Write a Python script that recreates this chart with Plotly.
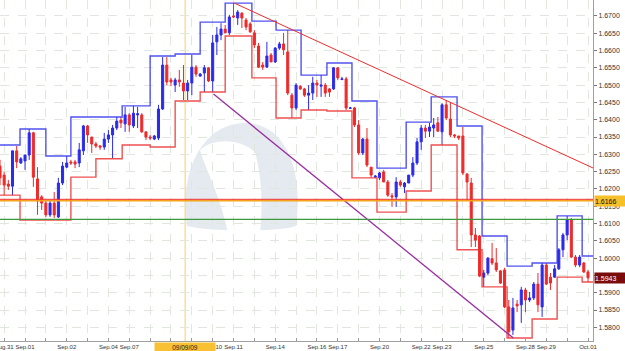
import plotly.graph_objects as go

# ---------------- data (prices in pips, i.e. price * 10000) ----------------
open_p = [16266,16240,16214,16208,16310,16275,16281,16298,16362,16229,
          16177,16159,16125,16159,16119,16217,16263,16278,16278,16275,
          16310,16382,16350,16330,16324,16321,16344,16356,16376,16399,
          16388,16414,16382,16414,16414,16365,16350,16344,16347,16431,
          16558,16515,16500,16515,16506,16483,16506,16552,16526,16535,
          16550,16512,16625,16645,16662,16651,16700,16694,16708,16688,
          16677,16651,16613,16558,16552,16587,16567,16607,16619,16596,
          16471,16434,16497,16489,16471,16477,16506,16497,16500,16489,
          16489,16550,16516,16518,16433,16434,16385,16304,16344,16263,
          16234,16232,16249,16220,16180,16177,16220,16206,16217,16240,
          16275,16336,16376,16367,16376,16391,16365,16443,16402,16356,
          16353,16353,16243,16217,16067,16064,15945,15957,15998,15986,
          15963,15966,15859,15792,15867,15865,15908,15879,15885,15925,
          15859,15980,15945,15945,15969,16024,16067,16110,16003,15980,
          15986,15960]
high_p = [16284,16249,16226,16310,16324,16292,16298,16373,16365,16263,
          16182,16168,16168,16191,16232,16278,16295,16284,16284,16333,
          16385,16385,16350,16336,16327,16362,16370,16385,16408,16408,
          16437,16419,16440,16437,16419,16365,16356,16356,16443,16581,
          16581,16521,16521,16544,16558,16515,16587,16558,16535,16558,
          16552,16645,16668,16679,16674,16703,16737,16717,16711,16694,
          16682,16659,16622,16567,16625,16593,16610,16625,16651,16659,
          16477,16506,16500,16492,16500,16524,16515,16529,16506,16492,
          16552,16552,16524,16524,16437,16437,16399,16347,16376,16263,
          16240,16249,16255,16226,16188,16234,16226,16220,16240,16292,
          16347,16385,16385,16391,16405,16408,16448,16457,16451,16359,
          16353,16379,16246,16232,16087,16067,15966,16003,16044,16029,
          15966,15972,15879,15885,15879,15917,15914,15902,15931,15957,
          15986,15986,15957,15980,16029,16073,16122,16116,16009,16009,
          15989,15966]
low_p = [16211,16182,16197,16182,16260,16272,16255,16284,16206,16125,
         16139,16119,16119,16116,16116,16211,16260,16269,16260,16263,
         16298,16333,16304,16318,16313,16313,16333,16289,16370,16376,
         16365,16365,16376,16376,16362,16341,16341,16341,16341,16428,
         16500,16497,16480,16495,16457,16457,16471,16524,16524,16480,
         16509,16480,16587,16630,16651,16645,16694,16674,16665,16659,
         16651,16607,16550,16544,16550,16567,16564,16602,16587,16471,
         16405,16428,16486,16466,16428,16457,16466,16466,16466,16466,
         16486,16515,16515,16428,16431,16379,16298,16298,16263,16232,
         16232,16226,16220,16177,16148,16148,16206,16188,16217,16234,
         16269,16313,16347,16350,16350,16365,16327,16399,16350,16347,
         16341,16240,16168,16032,16032,15945,15917,15951,15980,15960,
         15925,15856,15769,15778,15844,15813,15844,15873,15879,15844,
         15830,15922,15908,15943,15966,16003,16052,16000,15974,15974,
         15957,15931]
close_p = [16232,16211,16208,16310,16278,16287,16298,16362,16234,16165,
           16159,16125,16159,16125,16217,16266,16275,16275,16272,16313,
           16382,16356,16330,16324,16321,16344,16356,16376,16396,16391,
           16414,16385,16419,16417,16365,16350,16347,16353,16431,16558,
           16509,16509,16515,16509,16483,16506,16552,16532,16532,16550,
           16512,16622,16645,16662,16651,16697,16697,16711,16694,16668,
           16654,16616,16552,16552,16584,16567,16607,16619,16602,16477,
           16434,16500,16489,16471,16477,16506,16500,16500,16477,16480,
           16550,16521,16518,16434,16434,16385,16304,16344,16269,16240,
           16237,16246,16220,16182,16177,16220,16211,16217,16240,16275,
           16336,16376,16367,16379,16385,16367,16443,16405,16356,16353,
           16347,16246,16220,16067,16052,15948,15957,16000,15986,15966,
           15928,15859,15787,15856,15862,15908,15879,15885,15925,15865,
           15980,15925,15928,15969,16024,16067,16110,16003,15980,16003,
           15960,15943]

# daily channel (bar-index where each level starts, upper / lower level in pips)
chan_start = [-1, 4.8, 11.0, 17.0, 23.0, 29.3, 36.0, 42.0, 48.0, 54.0, 60.4, 66.2,
              72.2, 78.4, 84.4, 90.4, 97.4, 103.4, 109.6, 115.6, 121.6, 127.6, 133.6, 139.6]
chan_upper = [16327,16373,16295,16408,16408,16440,16584,16590,16682,16737,16685,16659,
              16529,16564,16454,16260,16393,16466,16382,16064,15977,15986,16122,16006]
chan_lower = [16182,16110,16110,16234,16287,16327,16321,16454,16480,16642,16521,16405,
              16428,16425,16232,16133,16194,16327,16024,15917,15769,15824,15945,15931]

# trend lines (bar index, price)
red_trend_x = [56.2, 142.3]
red_trend_y = [1.6737, 1.6260]
purple_trend_x = [51.2, 123.1]
purple_trend_y = [1.6474, 1.5769]

# horizontal levels
orange_level = 1.6166
red_level = 1.6170
green_level = 1.6112
last_price = 1.5943
cursor_bar = 44.4
cursor_label = "09/09/09"

# x tick labels (bar index -> label)
tick_labels = {1: "Aug.31", 6: "Sep.01", 16: "Sep.02", 26: "Sep.04", 31: "Sep.07",
               51: "Sep.10", 56: "Sep.11", 66: "Sep.14", 76: "Sep.16", 81: "Sep.17",
               91: "Sep.20", 101: "Sep.22", 106: "Sep.23", 116: "Sep.25", 126: "Sep.28",
               131: "Sep.29", 141: "Oct.01"}
y_ticks = [round(1.5800 + 0.005 * k, 4) for k in range(19)]
y_hidden = [1.5950]   # label covered by the last-price tag

# ---------------- figure ----------------
P = 10000.0
n = len(open_p)
idx = list(range(n))
BLUE = "#2b2bea"
RED = "#ee2a2a"
FONT = "Liberation Sans, Arial, sans-serif"

fig = go.Figure()

# watermark (decorative)
W, H = 593.0, 341.0
def pth(pts):
    s = ""
    for cmd, coords in pts:
        s += cmd + " " + " ".join(f"{x / W:.4f},{1 - y / H:.4f}" for x, y in coords) + " "
    return s + "Z"

logo_outer = pth([("M", [(187, 226)]), ("C", [(178, 168), (205, 123), (245, 123)]),
                  ("C", [(284, 123), (304, 168), (296, 226)]),
                  ("C", [(280, 232), (210, 232), (187, 226)])])
logo_swoosh = pth([("M", [(228, 234)]), ("C", [(222, 200), (205, 168), (200, 150)]),
                   ("C", [(212, 138), (240, 138), (255, 152)]),
                   ("C", [(262, 178), (263, 205), (260, 234)])])
fig.add_shape(type="path", path=logo_outer, xref="paper", yref="paper",
              fillcolor="#e4eaf0", line=dict(width=0), layer="below")
fig.add_shape(type="path", path=logo_swoosh, xref="paper", yref="paper",
              fillcolor="#ffffff", line=dict(width=0), layer="below")

# cursor vertical line
fig.add_shape(type="line", x0=cursor_bar, x1=cursor_bar, y0=0, y1=1, xref="x", yref="paper",
              line=dict(color="#fbd57a", width=1.2), layer="below")

# horizontal levels
fig.add_shape(type="line", x0=0, x1=1, xref="paper", y0=green_level, y1=green_level,
              line=dict(color="#3c9a3c", width=1.2))
fig.add_shape(type="line", x0=0, x1=1, xref="paper", y0=orange_level, y1=orange_level,
              line=dict(color="#f7a21b", width=1.8))
fig.add_shape(type="line", x0=0, x1=1, xref="paper", y0=red_level, y1=red_level,
              line=dict(color="#ee3030", width=1))

# channel
cx = chan_start + [142.5]
fig.add_trace(go.Scatter(x=cx, y=[v / P for v in chan_upper + chan_upper[-1:]],
                         mode="lines", line=dict(color="#3535ee", width=1.4, shape="hv"),
                         opacity=0.85, hoverinfo="skip", showlegend=False))
fig.add_trace(go.Scatter(x=cx, y=[v / P for v in chan_lower + chan_lower[-1:]],
                         mode="lines", line=dict(color="#ec3535", width=1.4, shape="hv"),
                         opacity=0.85, hoverinfo="skip", showlegend=False))

# candles
fig.add_trace(go.Candlestick(
    x=idx,
    open=[v / P for v in open_p], high=[v / P for v in high_p],
    low=[v / P for v in low_p], close=[v / P for v in close_p],
    increasing=dict(line=dict(color=BLUE, width=1), fillcolor=BLUE),
    decreasing=dict(line=dict(color=RED, width=1), fillcolor=RED),
    whiskerwidth=0, showlegend=False))

# trend lines
fig.add_trace(go.Scatter(x=red_trend_x, y=red_trend_y, mode="lines",
                         line=dict(color="#f02c2c", width=1), hoverinfo="skip", showlegend=False))
fig.add_trace(go.Scatter(x=purple_trend_x, y=purple_trend_y, mode="lines",
                         line=dict(color="#9a2ea0", width=1.3), hoverinfo="skip", showlegend=False))

tickvals = list(range(1, n, 5))
ticktext = [tick_labels.get(t, "") for t in tickvals]
ytext = ["" if v in y_hidden else f"{v:.4f}" for v in y_ticks]

fig.update_layout(
    width=625, height=351,
    margin=dict(l=0, r=32, t=0, b=10, autoexpand=False),
    paper_bgcolor="white", plot_bgcolor="white",
    showlegend=False,
    xaxis=dict(range=[0, 142.2], tickmode="array", tickvals=tickvals, ticktext=ticktext,
               tickangle=0, automargin=False, ticklabeloverflow="allow",
               showgrid=True, gridcolor="#dfe7df", griddash="dash", gridwidth=1,
               ticks="inside", ticklen=3, tickcolor="#999999",
               showline=True, linecolor="#a0a0a0", linewidth=1,
               tickfont=dict(family=FONT, size=6, color="#333333"),
               rangeslider=dict(visible=False), zeroline=False, fixedrange=True),
    yaxis=dict(range=[1.57605, 1.6746], side="right", tickmode="array", tickvals=y_ticks,
               ticktext=ytext, automargin=False,
               showgrid=True, gridcolor="#dfe7df", griddash="dash", gridwidth=1,
               ticks="outside", ticklen=3, tickcolor="#777777",
               showline=True, linecolor="#a0a0a0", linewidth=1,
               tickfont=dict(family=FONT, size=7, color="#333333"),
               zeroline=False, fixedrange=True),
)

# price tags on the right
fig.add_annotation(x=1, xref="paper", xanchor="left", xshift=1, y=orange_level, yref="y",
                   text=f"{orange_level:.4f}", showarrow=False, bgcolor="#f6c02b",
                   font=dict(family=FONT, size=7, color="#111111"),
                   width=30, height=10, borderpad=0, align="left")
fig.add_annotation(x=1, xref="paper", xanchor="left", xshift=1, y=last_price, yref="y",
                   text=f"{last_price:.4f}", showarrow=False, bgcolor="#7a0c0c",
                   font=dict(family=FONT, size=7, color="#ffffff"),
                   width=30, height=10, borderpad=0, align="left")
# cursor date label
fig.add_annotation(x=cursor_bar, xref="x", y=0, yref="paper", yanchor="top", yshift=-1,
                   text=cursor_label, showarrow=False, bgcolor="#f8c134",
                   font=dict(family=FONT, size=6.5, color="#222222"),
                   width=60, height=9, borderpad=0)

fig.write_html("out.html")
